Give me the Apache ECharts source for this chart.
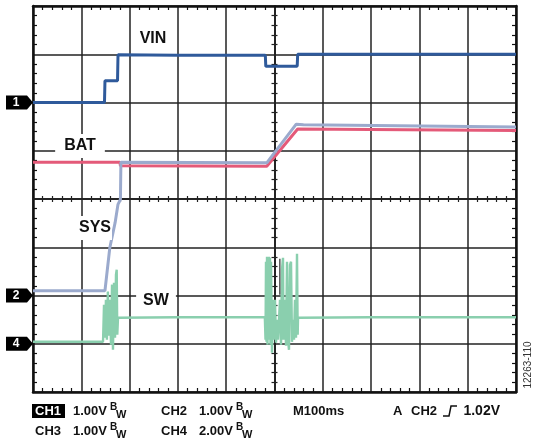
<!DOCTYPE html>
<html><head><meta charset="utf-8">
<script src="https://cdn.jsdelivr.net/npm/echarts@6/dist/echarts.min.js"></script>
<style>html,body{margin:0;padding:0;background:#fff}#c{width:536px;height:448px}</style>
</head><body><div id="c"></div>
<script>
// ---- scope settings ----
const timeMin = 0, timeMax = 1000, timeStep = 100;   // ms, 100 ms/div
const divMin = -4, divMax = 4;                       // vertical divisions
const channelNames = ['VIN', 'SYS', 'BAT', 'SW'];
const channelNumbers = [1, 2, 3, 4];
const channelScale = [1, 1, 1, 2];                   // V/div
const channelGround = [2, -2, -2, -3];               // ground marker, div

// ---- traces: [time ms, volts] ----
const vinTrace = [[0,0.0],[148,0.0],[149,0.45],[175,0.45],[176,0.99],[300,0.98],[481,0.98],[482,0.75],[547,0.75],[548,1.0],[1000,1.0]];
const sysTrace = [[0,0.10],[149,0.10],[159,0.99],[170,1.51],[176,1.89],[181,1.99],[182,2.76],[484,2.75],[545,3.55],[560,3.54],[1000,3.49]];
const batTrace = [[0,2.76],[180,2.76],[181,2.69],[484,2.68],[548,3.45],[1000,3.42]];
const swTrace = [[0,0.08],[145,0.08],[147,1.62],[149,0.25],[151,1.82],[153,0.17],[155,2.16],[157,0.33],[159,1.82],[161.5,-0.04],[163.6,2.45],[165.6,-0.25],[167.7,2.53],[169.8,0.25],[171.8,2.86],[173.3,3.07],[174.5,0.37],[176,1.08],[300,1.10],[480,1.10],
[481.4,0.17],[482.4,3.40],[483.4,0.08],[484.5,3.61],[485.5,-0.04],[486.5,3.61],[487.6,0.17],[488.6,3.61],[489.6,0.25],[490.7,3.56],[491.7,-0.04],[492.8,3.40],[494.8,-0.37],[496.9,1.82],[497.9,0.17],[501,1.82],[503.1,0.04],[505.2,0.99],[507.2,0.17],[511.4,1.82],[513.5,-0.04],[515.5,3.07],[517.6,3.56],[518.6,0.17],[521.7,1.82],[523.8,-0.08],[525.9,3.40],[527.9,0.17],[530,-0.25],[532.1,3.27],[534.2,3.40],[536.2,0.08],[538.3,0.99],[540.4,0.17],[542.4,1.82],[544.5,0.25],[546.6,3.73],[548,0.37],[548.7,1.08],[700,1.10],[1000,1.10]];
const swCursor = [[511,3.52],[511,2.03]];

// ---- readout text ----
const readoutLine1 = ['CH1', '1.00V', 'CH2', '1.00V', 'M100ms', 'A', 'CH2', '1.02V'];
const readoutLine2 = ['CH3', '1.00V', 'CH4', '2.00V'];
const figureId = '12263-110';

function toDiv(trace, ch) {
  return trace.map(p => [p[0], channelGround[ch] + p[1] / channelScale[ch]]);
}

const FONT = '"Liberation Sans", Arial, Helvetica, sans-serif';
const gridCol = '#222';
const chart = echarts.init(document.getElementById('c'), null, {renderer: 'canvas'});

function baseAxis(extra) {
  return Object.assign({
    type: 'value', axisLabel: {show: false},
    axisLine: {show: true, onZero: false, lineStyle: {color: '#111', width: 2.5}},
    axisTick: {show: false, inside: true},
    minorTick: {show: true, splitNumber: 5, length: 4, lineStyle: {color: '#111', width: 1.2}},
    splitLine: {show: false}
  }, extra);
}
function centerAxis(extra) {
  return Object.assign({
    type: 'value', axisLabel: {show: false},
    axisLine: {show: true, onZero: true, lineStyle: {color: gridCol, width: 1.5}},
    axisTick: {show: false, inside: true},
    minorTick: {show: true, splitNumber: 5, length: 3, lineStyle: {color: gridCol, width: 1.2}},
    splitLine: {show: false}
  }, extra);
}
const halfT = (timeMax - timeMin) / 2;
const gridRect = {left: 33, right: 20, top: 6, bottom: 56};

const colors = {VIN: '#2F5A9B', SYS: '#9BAACD', BAT: '#E45A79', SW: '#8ACFAE'};

chart.setOption({
  animation: false,
  backgroundColor: '#fff',
  grid: [Object.assign({}, gridRect), Object.assign({}, gridRect)],
  xAxis: [
    baseAxis({gridIndex: 0, position: 'bottom', min: timeMin, max: timeMax, interval: timeStep,
      splitLine: {show: true, lineStyle: {color: gridCol, width: 1.5}}}),
    baseAxis({gridIndex: 0, position: 'top', min: timeMin, max: timeMax, interval: timeStep}),
    centerAxis({gridIndex: 1, position: 'bottom', min: -halfT, max: halfT, interval: timeStep}),
    centerAxis({gridIndex: 1, position: 'top', min: -halfT, max: halfT, interval: timeStep})
  ],
  yAxis: [
    baseAxis({gridIndex: 0, position: 'left', min: divMin, max: divMax, interval: 1,
      splitLine: {show: true, lineStyle: {color: gridCol, width: 1.5}}}),
    baseAxis({gridIndex: 0, position: 'right', min: divMin, max: divMax, interval: 1}),
    centerAxis({gridIndex: 1, position: 'left', min: divMin, max: divMax, interval: 1}),
    centerAxis({gridIndex: 1, position: 'right', min: divMin, max: divMax, interval: 1})
  ],
  series: [
    {name: 'BAT', type: 'line', data: toDiv(batTrace, 2), showSymbol: false, symbol: 'none',
      lineStyle: {color: colors.BAT, width: 3}, z: 3},
    {name: 'SYS', type: 'line', data: toDiv(sysTrace, 1), showSymbol: false, symbol: 'none',
      lineStyle: {color: colors.SYS, width: 3}, z: 4},
    {name: 'VIN', type: 'line', data: toDiv(vinTrace, 0), showSymbol: false, symbol: 'none',
      lineStyle: {color: colors.VIN, width: 3}, z: 5},
    {name: 'SW', type: 'line', data: toDiv(swTrace, 3), showSymbol: false, symbol: 'none',
      lineStyle: {color: colors.SW, width: 2.4}, z: 6},
    {name: 'SWcursor', type: 'line', data: toDiv(swCursor, 3), showSymbol: false, symbol: 'none',
      lineStyle: {color: '#555', width: 1.5}, z: 7}
  ]
});

// ---- overlay: channel markers, trace labels, readout ----
const g = [];
// markers for channels 1, 2, 4 (3 sits under 2)
[0, 1, 3].forEach(ch => {
  const y = chart.convertToPixel({gridIndex: 0}, [timeMin, channelGround[ch]])[1];
  const xTip = chart.convertToPixel({gridIndex: 0}, [timeMin, 0])[0];
  const x0 = xTip - 27;
  g.push({type: 'polygon', z: 50, shape: {points: [[x0, y - 7], [x0 + 21, y - 7], [xTip, y], [x0 + 21, y + 7], [x0, y + 7]]},
    style: {fill: '#000'}});
  g.push({type: 'text', z: 51, x: x0 + 10, y: y,
    style: {text: String(channelNumbers[ch]), font: 'bold 12px ' + FONT, fill: '#fff', align: 'center', verticalAlign: 'middle'}});
});
function lbl(text, x, y, pad) {
  g.push({type: 'text', z: 60, x: x, y: y,
    style: {text: text, font: 'bold 16px ' + FONT, fill: '#111', align: 'center', verticalAlign: 'middle',
      backgroundColor: '#fff', padding: pad}});
}
lbl(channelNames[0], 153, 39, [2, 4]);
lbl(channelNames[2], 80, 146, [4, 9]);
lbl(channelNames[1], 92, 228, [4, 1, 4, 7]);
lbl(channelNames[3], 156, 301, [3, 7]);

function txt(text, x, y, size, opts) {
  g.push({type: 'text', z: 60, x: x, y: y,
    style: Object.assign({text: text, font: 'bold ' + size + 'px ' + FONT, fill: '#111', align: 'left', verticalAlign: 'middle'}, opts || {})});
}
function bw(x, y) {
  txt('B', x, y - 4, 10);
  txt('W', x + 6, y + 4, 11);
}
const L1 = 411, L2 = 431;
txt(readoutLine1[0], 32, L1, 13, {fill: '#fff', backgroundColor: '#000', padding: [1, 4, 0, 3]});
txt(readoutLine1[1], 73, L1, 13); bw(110, L1);
txt(readoutLine1[2], 161, L1, 13);
txt(readoutLine1[3], 199, L1, 13); bw(236, L1);
txt(readoutLine1[4], 293, L1, 13);
txt(readoutLine1[5], 393, L1, 13);
txt(readoutLine1[6], 411, L1, 13);
g.push({type: 'polyline', z: 60, shape: {points: [[443, L1 + 5], [449, L1 + 5], [451, L1 - 5], [457, L1 - 5]]},
  style: {stroke: '#111', lineWidth: 1.5, fill: null}});
txt(readoutLine1[7], 500, L1, 14, {align: 'right'});
txt(readoutLine2[0], 32, L2, 13, {padding: [0, 3]});
txt(readoutLine2[1], 73, L2, 13); bw(110, L2);
txt(readoutLine2[2], 161, L2, 13);
txt(readoutLine2[3], 199, L2, 13); bw(236, L2);

g.push({type: 'text', z: 60, x: 528, y: 365, rotation: Math.PI / 2,
  style: {text: figureId, font: '10px ' + FONT, fill: '#333', align: 'center', verticalAlign: 'middle'}});

chart.setOption({graphic: g});
</script>
</body></html>
